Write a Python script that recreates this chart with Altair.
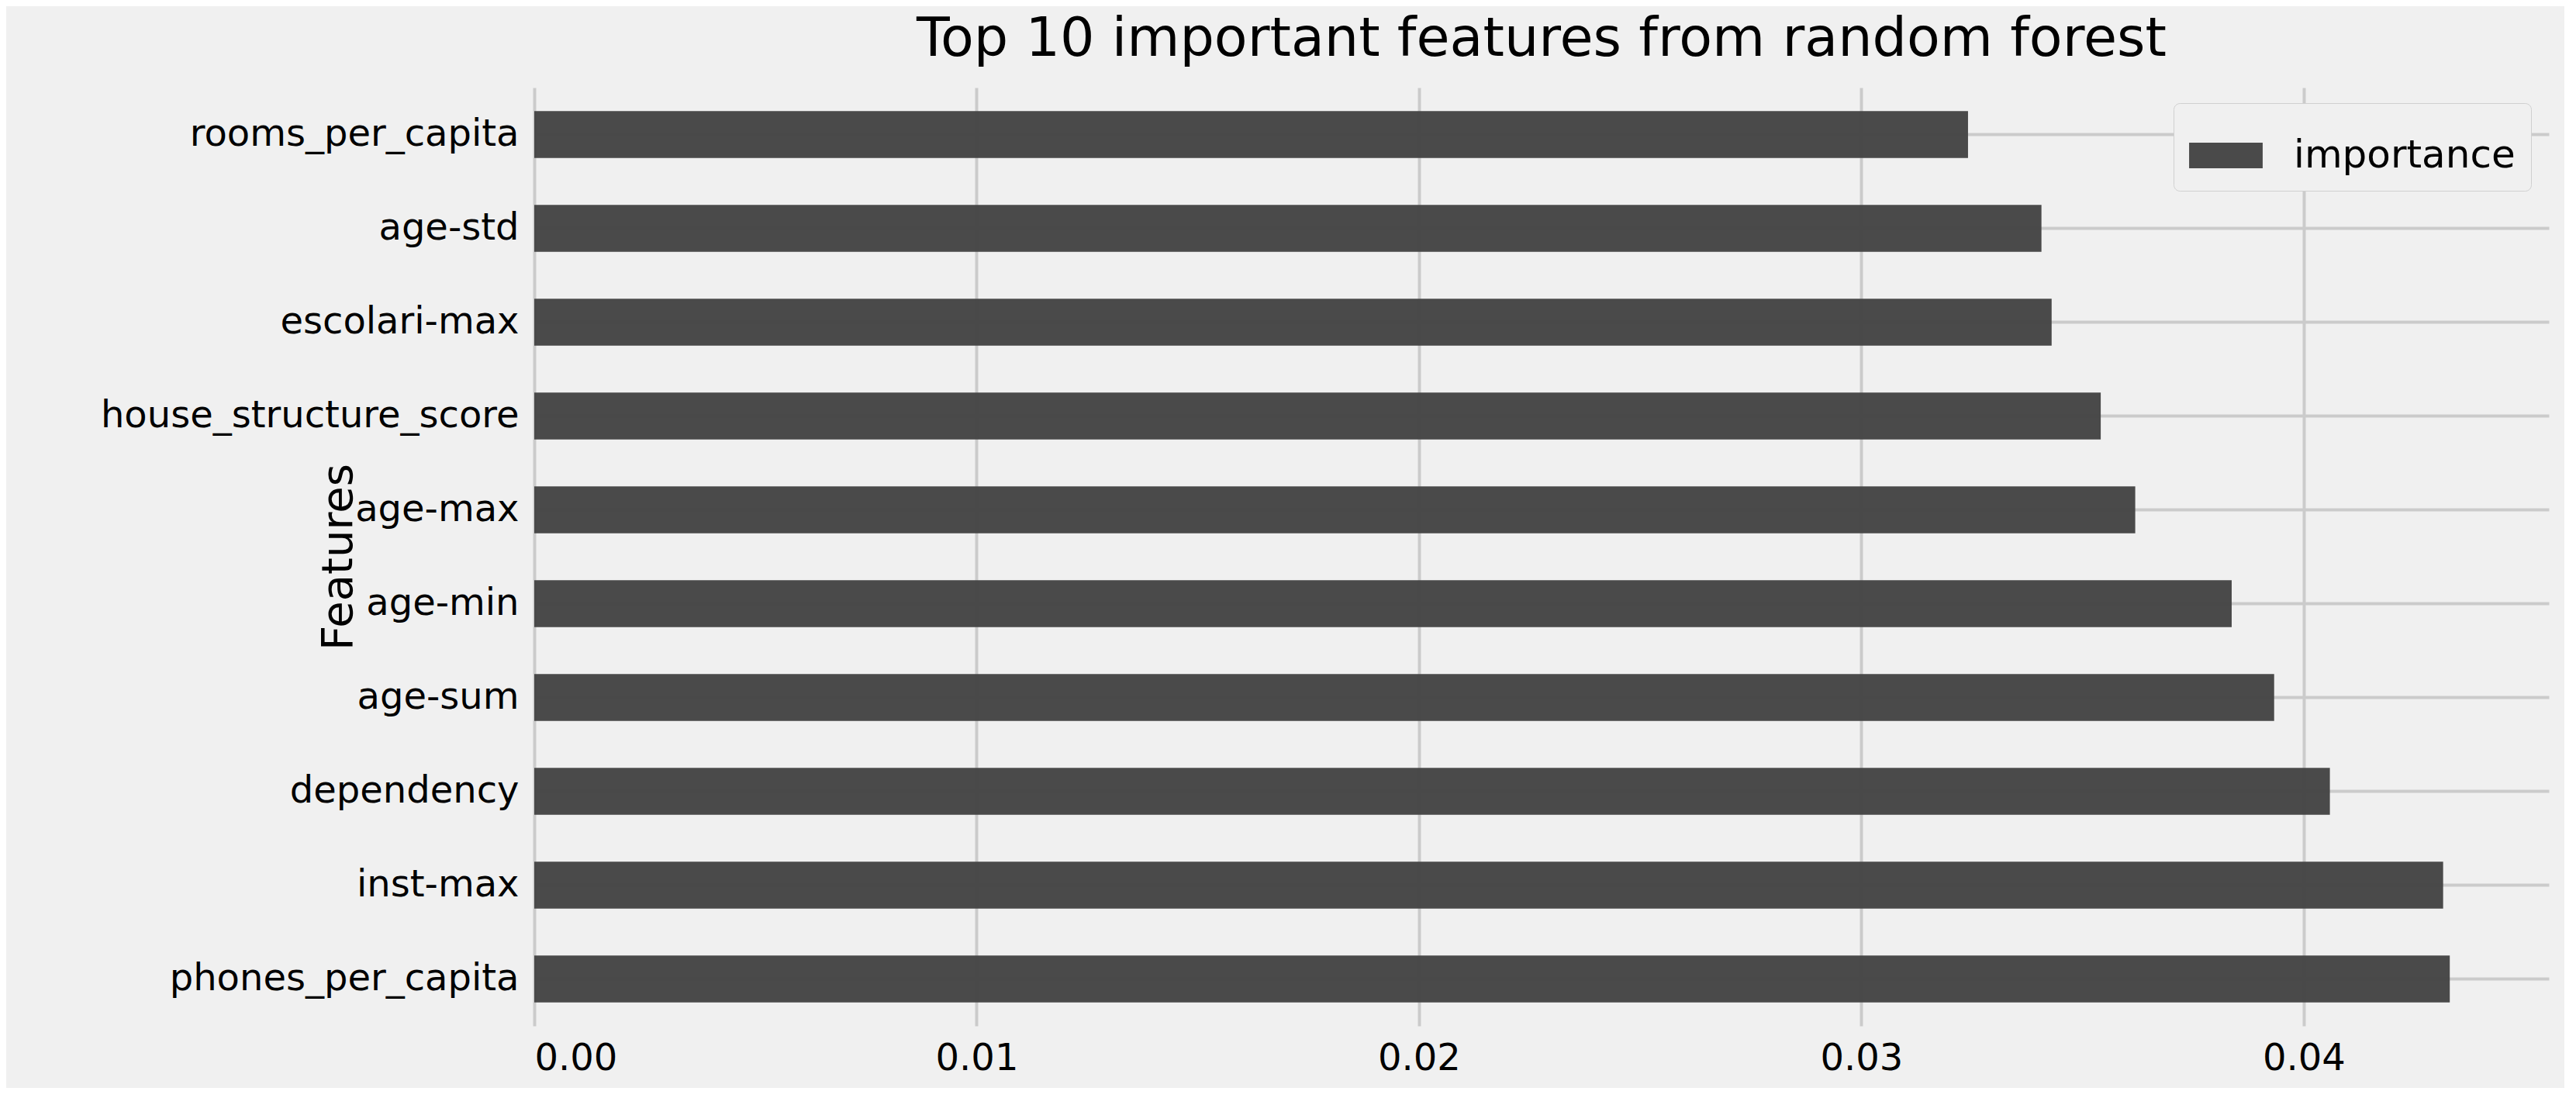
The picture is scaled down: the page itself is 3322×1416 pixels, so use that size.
import pandas as pd
import altair as alt

features = [
    "rooms_per_capita", "age-std", "escolari-max", "house_structure_score", "age-max",
    "age-min", "age-sum", "dependency", "inst-max", "phones_per_capita",
]
importance = [0.03241, 0.03407, 0.03430, 0.03541, 0.03619, 0.03837, 0.03933, 0.04059, 0.04315, 0.04330]

data = pd.DataFrame({"feature": features, "importance": importance, "series": "importance"})

FONT = "DejaVu Sans"

chart = (
    alt.Chart(data)
    .mark_bar(opacity=0.97)
    .encode(
        x=alt.X(
            "importance:Q",
            title=None,
            scale=alt.Scale(domain=[0, 0.04554], nice=False, zero=True),
            axis=alt.Axis(values=[0, 0.01, 0.02, 0.03, 0.04], format=".2f", labelPadding=18),
        ),
        y=alt.Y(
            "feature:N",
            sort=features,
            title="Features",
            scale=alt.Scale(paddingInner=0.5, paddingOuter=0.25),
            axis=alt.Axis(labelPadding=20, titlePadding=24, labelLimit=0),
        ),
        color=alt.Color(
            "series:N",
            title=None,
            scale=alt.Scale(range=["#444444"]),
            legend=alt.Legend(
                orient="none", legendX=2114, legendY=20,
                symbolType="M-1,-0.35L1,-0.35L1,0.35L-1,0.35Z", symbolSize=9000,
                symbolStrokeWidth=0, labelFontSize=50, labelFont=FONT, labelColor="#000000",
                labelLimit=0, fillColor="#f0f0f0", strokeColor="#d0d0d0", cornerRadius=8,
                padding=20, labelOffset=40,
            ),
        ),
    )
    .properties(
        width=2598,
        height=1210,
        title=alt.TitleParams(
            "Top 10 important features from random forest",
            fontSize=70, font=FONT, fontWeight="normal", color="#000000", offset=26,
        ),
        background="#f0f0f0",
        padding={"left": 681, "top": 105, "right": 20, "bottom": 80},
        autosize=alt.AutoSizeParams(type="none"),
    )
    .configure_view(stroke=None, fill="#f0f0f0")
    .configure_axis(
        labelFont=FONT, labelFontSize=48, labelColor="#000000",
        titleFont=FONT, titleFontSize=56, titleFontWeight="normal", titleColor="#000000",
        domain=False, ticks=False, grid=True, gridColor="#cbcbcb", gridWidth=4, zindex=1,
    )
)

chart.save("out.html", embed_options={"renderer": "svg", "actions": False})
